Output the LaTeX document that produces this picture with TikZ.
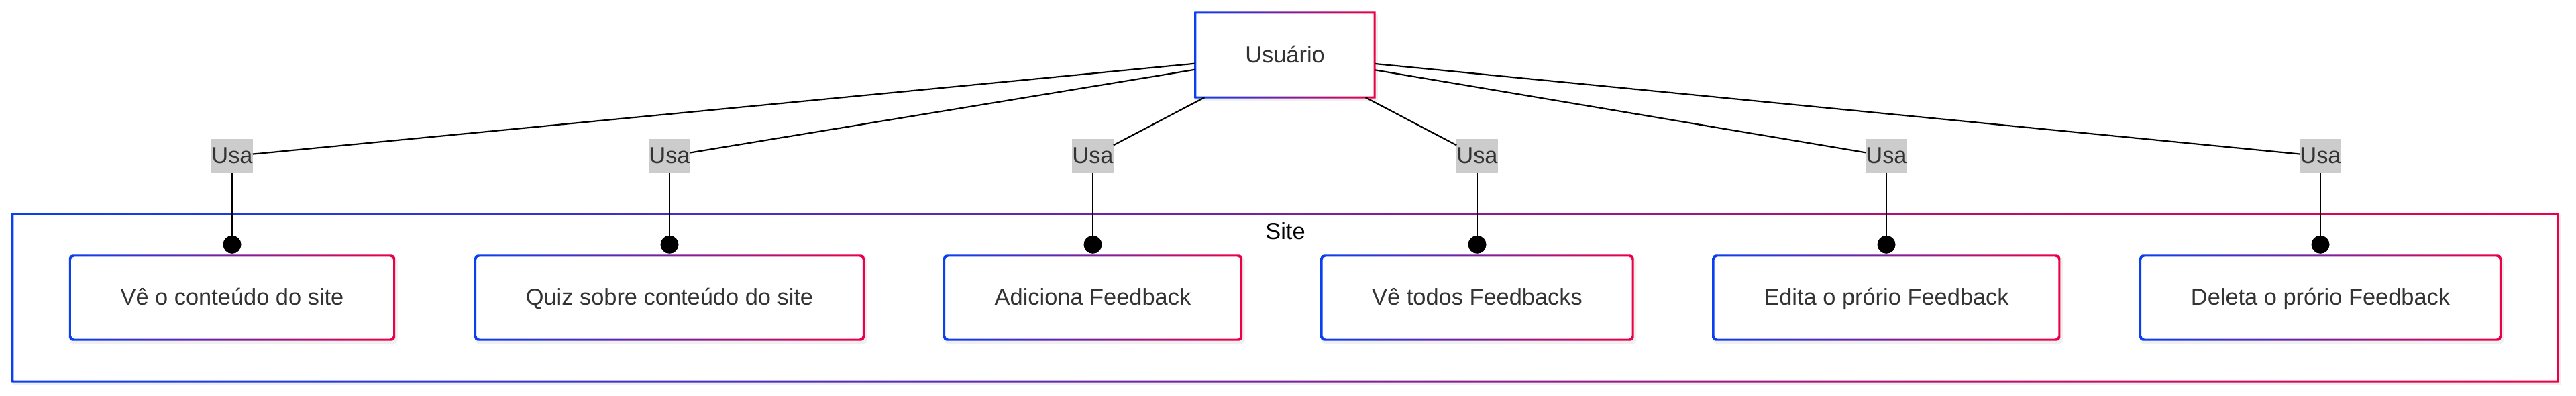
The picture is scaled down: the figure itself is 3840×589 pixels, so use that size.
\documentclass[tikz,border=0pt]{standalone}
\usepackage{fontspec}
\setmainfont{Liberation Sans}
\usetikzlibrary{arrows.meta}
\definecolor{gB}{RGB}{10,64,240}
\definecolor{gR}{RGB}{236,0,72}
\definecolor{txt}{RGB}{51,51,51}
\definecolor{lblfill}{RGB}{204,204,204}
\pgfdeclarelayer{bg}
\pgfsetlayers{bg,main}
% gradient border box around a named node: #1 corner radius, #2 node name
\newcommand{\gbox}[2][0pt]{%
  \begin{pgfonlayer}{bg}
  \fill[black,opacity=0.06,rounded corners=#1]
    ([xshift=0pt,yshift=-2pt]#2.north west) rectangle ([xshift=5pt,yshift=-6pt]#2.south east);
  \fill[white,rounded corners=#1] (#2.north west) rectangle (#2.south east);
  \shade[left color=gB,right color=gR,even odd rule,rounded corners=#1]
    ([xshift=-1.5pt,yshift=1.5pt]#2.north west) rectangle ([xshift=1.5pt,yshift=-1.5pt]#2.south east)
    ([xshift=1.5pt,yshift=-1.5pt]#2.north west) rectangle ([xshift=-1.5pt,yshift=1.5pt]#2.south east);
  \end{pgfonlayer}}
\begin{document}
\begin{tikzpicture}[x=1pt,y=-1pt,
  basefont/.style={font=\fontsize{34.4pt}{41pt}\selectfont,text height=29.5pt,text depth=7pt},
  usecase/.style={basefont,inner sep=0pt,inner xsep=75pt,minimum height=125pt,text=txt},
  actor/.style={basefont,inner sep=0pt,minimum width=267pt,minimum height=126pt,text=txt},
  container/.style={inner sep=0pt,minimum width=3794pt,minimum height=249pt},
  rel/.style={basefont,fill=lblfill,inner sep=0pt,minimum height=51pt,text=txt},
  link/.style={line width=2.2pt,black},
  dotlink/.style={line width=2.2pt,black,-{Circle[length=27pt,width=27pt]},shorten >=3pt}]
\useasboundingbox (0,0) rectangle (3840,589);

% container
\node[container] (site) at (1916,443.5) {};
\gbox{site}
\node[font=\fontsize{34.4pt}{41pt}\selectfont,anchor=base,text=black] (sitelbl) at (1916,356) {Site};

% actor
\node[actor] (u) at (1915.5,82) {Usuário};
\gbox{u}

% use cases
\node[usecase] (n1) at (346,443.5) {Vê o conteúdo do site};
\node[usecase] (n2) at (998,443.5) {Quiz sobre conteúdo do site};
\node[usecase] (n3) at (1629,443.5) {Adiciona Feedback};
\node[usecase] (n4) at (2202,443.5) {Vê todos Feedbacks};
\node[usecase] (n5) at (2812,443.5) {Edita o prório Feedback};
\node[usecase] (n6) at (3459,443.5) {Deleta o prório Feedback};
\foreach \n in {n1,n2,n3,n4,n5,n6} {\gbox[5pt]{\n}}

% relation labels
\node[rel] (l1) at (346,232.5) {Usa};
\node[rel] (l2) at (998,232.5) {Usa};
\node[rel] (l3) at (1629,232.5) {Usa};
\node[rel] (l4) at (2202,232.5) {Usa};
\node[rel] (l5) at (2812,232.5) {Usa};
\node[rel] (l6) at (3459,232.5) {Usa};

% connectors
\foreach \i in {1,...,6} {
  \draw[link] (u) -- (l\i);
  \draw[dotlink] (l\i) -- (n\i);
}
\end{tikzpicture}
\end{document}
